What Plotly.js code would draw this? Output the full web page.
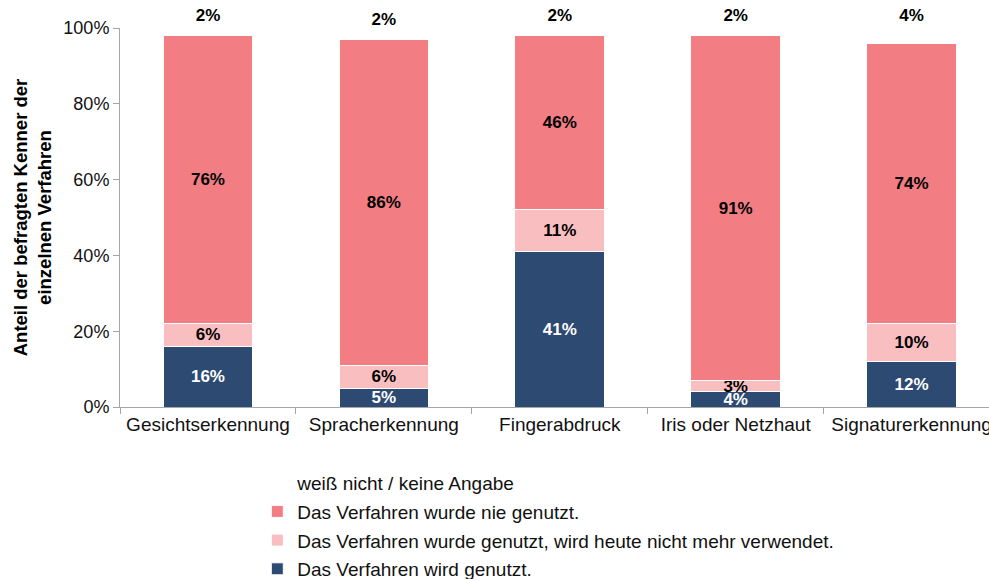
<!DOCTYPE html>
<html>
<head>
<meta charset="utf-8">
<script src="https://cdn.plot.ly/plotly-3.0.1.min.js"></script>
<style>html,body{margin:0;padding:0;background:#fff;}#chart{width:989px;height:579px;}</style>
</head>
<body>
<div id="chart"></div>
<script>
const categories = ["Gesichtserkennung", "Spracherkennung", "Fingerabdruck", "Iris oder Netzhaut", "Signaturerkennung"];
const genutzt = [16, 5, 41, 4, 12];
const nichtMehr = [6, 6, 11, 3, 10];
const nieGenutzt = [76, 86, 46, 91, 74];
const weissNicht = [2, 2, 2, 2, 4];
const seriesNames = [
  "Das Verfahren wird genutzt.",
  "Das Verfahren wurde genutzt, wird heute nicht mehr verwendet.",
  "Das Verfahren wurde nie genutzt.",
  "weiß nicht / keine Angabe"
];
const yTickVals = [0, 20, 40, 60, 80, 100];
const yTickText = ["0%", "20%", "40%", "60%", "80%", "100%"];

const FONT = "Liberation Sans, Arial, sans-serif";
function pct(a){ return a.map(v => v + "%"); }
function mk(vals, name, color, txtColor, pos, grp, rank){
  return {
    type: "bar", x: categories, y: vals, name: name, legendgroup: grp, legendrank: rank,
    width: 0.51,
    marker: {color: color, line: {color: "#ffffff", width: 1}},
    text: pct(vals), textposition: pos, insidetextanchor: "middle",
    textangle: 0, constraintext: "none", cliponaxis: false,
    textfont: {family: FONT, size: 17, color: txtColor, weight: "bold"},
    hoverinfo: "skip"
  };
}
const data = [
  mk(genutzt, seriesNames[0], "#2C4A72", "#ffffff", "inside", "a", 4),
  mk(nichtMehr, seriesNames[1], "#F9BEC0", "#000000", "inside", "b", 3),
  mk(nieGenutzt, seriesNames[2], "#F27E83", "#000000", "inside", "c", 2),
  mk(weissNicht, seriesNames[3], "rgba(255,255,255,0)", "#000000", "outside", "d", 1)
];
data[3].marker.line = {color: "rgba(255,255,255,0)", width: 0};

const layout = {
  width: 989, height: 579,
  margin: {l: 120, r: 0, t: 28, b: 172, autoexpand: false},
  paper_bgcolor: "#ffffff", plot_bgcolor: "#ffffff",
  barmode: "stack",
  font: {family: FONT, size: 18, color: "#111"},
  uniformtext: {mode: "show", minsize: 17},
  xaxis: {
    type: "category", range: [-0.5, 4.44],
    showline: true, linecolor: "#A6A6A6", linewidth: 1,
    ticks: "outside", tickson: "boundaries", ticklen: 6, tickcolor: "#A6A6A6",
    tickfont: {family: FONT, size: 19, color: "#111"},
    showgrid: false, zeroline: false, fixedrange: true, automargin: false
  },
  yaxis: {
    range: [0, 100], tickvals: yTickVals, ticktext: yTickText,
    showline: true, linecolor: "#A6A6A6", linewidth: 1,
    ticks: "outside", ticklen: 6, tickcolor: "#A6A6A6",
    tickfont: {family: FONT, size: 18, color: "#111"},
    showgrid: false, zeroline: false, automargin: false,
    title: {text: "<b>Anteil der befragten Kenner der<br>einzelnen Verfahren</b>", font: {family: FONT, size: 18.5, color: "#000"}, standoff: 6}
  },
  showlegend: true,
  legend: {
    orientation: "v", x: 0.158, xanchor: "left", y: -0.15, yanchor: "top",
    traceorder: "grouped", tracegroupgap: 1, maxheight: 400,
    font: {family: FONT, size: 19, color: "#111"},
    itemwidth: 30, bgcolor: "rgba(0,0,0,0)"
  }
};
Plotly.newPlot("chart", data, layout, {displayModeBar: false, staticPlot: true});
</script>
</body>
</html>
